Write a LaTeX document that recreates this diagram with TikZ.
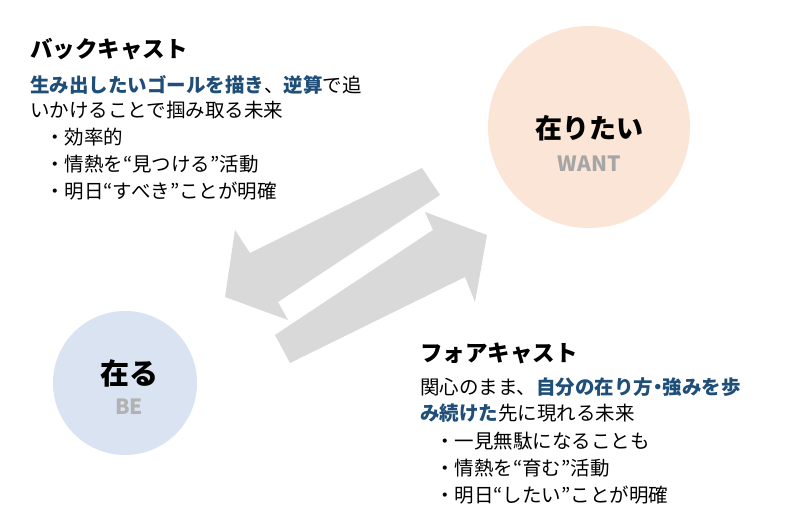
\documentclass[tikz,border=0pt]{standalone}
\usepackage{fontspec}
\setmainfont{Noto Sans CJK JP}
\begin{document}
\begin{tikzpicture}[x=1pt,y=-1pt,
  txt/.style={anchor=west,inner sep=0pt,font=\fontsize{19.5}{22}\selectfont},
  ttl/.style={anchor=west,inner sep=0pt,font=\fontsize{22.5}{25}\selectfont\bfseries},
  arr/.style={fill=black!15,draw=none}]
\definecolor{hl}{HTML}{1F4E79}
\useasboundingbox (0,0) rectangle (800,529);
\fill[white] (0,0) rectangle (800,529);
\node[circle,fill={rgb,255:red,251;green,229;blue,214},minimum size=202pt,inner sep=0pt] (want) at (589,127) {};
\node[circle,fill={rgb,255:red,218;green,227;blue,242},minimum size=144pt,inner sep=0pt] (be) at (125,383) {};
\fill[arr] (422,168) -- (440,195) -- (278,302) -- (288,320) -- (225,297) -- (235,230) -- (250,253) -- cycle;
\fill[arr] (275,335) -- (290,363) -- (465,277) -- (475,302) -- (487,235) -- (425,212) -- (433,230) -- cycle;
\node[inner sep=0pt,font=\fontsize{27}{30}\selectfont\bfseries] (wt) at (589,128) {在りたい};
\node[inner sep=0pt,font=\fontsize{21}{24}\selectfont\bfseries,text=black!35] (wl) at (589,164) {WANT};
\node[inner sep=0pt,font=\fontsize{29}{32}\selectfont\bfseries] (bt) at (129,373) {在る};
\node[inner sep=0pt,font=\fontsize{21}{24}\selectfont\bfseries,text=black!30] (bl) at (129,407) {BE};
\node[ttl] (t1) at (30,49) {バックキャスト};
\node[txt] (a1) at (30,85) {\textcolor{hl}{\bfseries 生み出したいゴールを描き}、\textcolor{hl}{\bfseries 逆算}で追};
\node[txt] (a2) at (30,110) {いかけることで掴み取る未来};
\node[txt] (a3) at (45,137) {・効率的};
\node[txt] (a4) at (45,164) {・情熱を“見つける”活動};
\node[txt] (a5) at (45,191) {・明日“すべき”ことが明確};
\node[ttl] (t2) at (420,353) {フォアキャスト};
\node[txt] (b1) at (420,387) {関心のまま、\textcolor{hl}{\bfseries 自分の在り方\kern-5pt・\kern-5pt 強みを歩}};
\node[txt] (b2) at (420,413) {\textcolor{hl}{\bfseries み続けた}先に現れる未来};
\node[txt] (b3) at (435,441) {・一見無駄になることも};
\node[txt] (b4) at (435,468) {・情熱を“育む”活動};
\node[txt] (b5) at (435,495) {・明日“したい”ことが明確};
\end{tikzpicture}
\end{document}
